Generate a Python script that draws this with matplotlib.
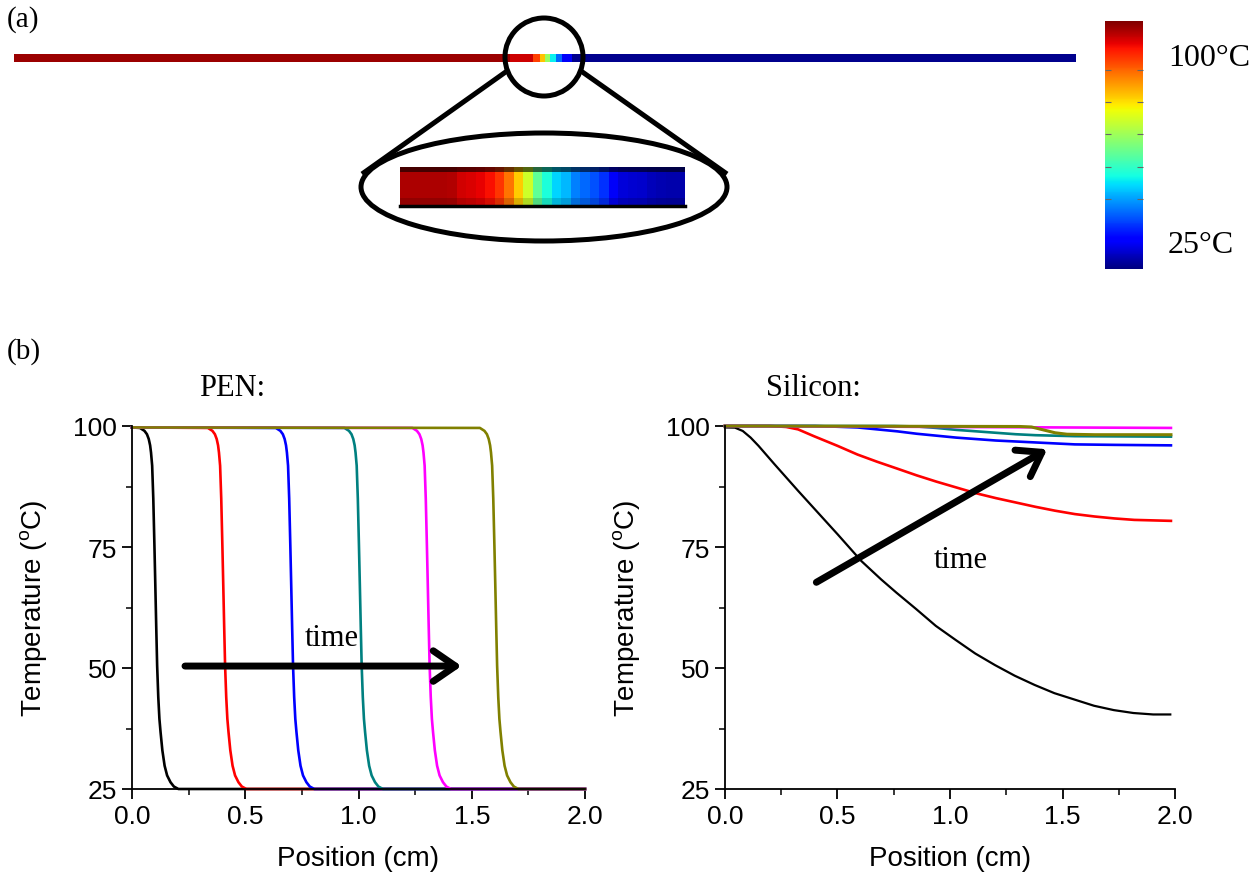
import matplotlib.pyplot as plt
import numpy as np
from matplotlib.patches import Ellipse, Rectangle
from matplotlib.colors import Normalize
from matplotlib.cm import ScalarMappable
from matplotlib.ticker import MultipleLocator

plt.rcParams['font.family'] = 'Liberation Sans'
plt.rcParams['mathtext.fontset'] = 'custom'
plt.rcParams['mathtext.rm'] = 'Liberation Sans'
plt.rcParams['mathtext.default'] = 'rm'

# ---------------- (a) temperature along the strip ----------------
# main strip: segment edges (fraction of strip length) and temperature of each segment
bar_edges = [0.0, 0.467, 0.489, 0.495, 0.500, 0.505, 0.510, 0.516, 0.525, 1.0]
bar_temps = [98, 95, 88, 78, 65, 52, 42, 33, 26]

# zoomed strip, left to right
inner_temps = [97, 97, 97, 97, 97, 96.5, 94.5, 94, 93, 92, 89, 84, 77, 70, 60,
               54, 50, 48, 44, 42, 40.5, 38, 33, 31, 30.5, 30, 29, 28.5, 28, 28]

# colour scale
cbar_range = (13.8, 113.2)
cbar_ticks = [25, 100]
cbar_labels = ['25°C', '100°C']
cbar_minor = [41.8, 54.6, 67.9, 80.7, 93.6]

# ---------------- (b) PEN ----------------
pen_temp = [99.7, 99.6, 99.0, 98.3, 97.3, 96.0, 94.5, 91.8, 85.0, 75.3, 67.0, 58.5, 50.5,
            44.0, 39.5, 36.8, 33.0, 29.8, 27.8, 26.4, 25.5, 25.0, 25.0]
pen_pos = [
    [0, 0.035, 0.055, 0.066, 0.074, 0.080, 0.084, 0.089, 0.094, 0.099, 0.103, 0.107,
     0.111, 0.116, 0.121, 0.126, 0.134, 0.144, 0.155, 0.170, 0.185, 0.205, 2.0],
    [0, 0.335, 0.355, 0.366, 0.374, 0.380, 0.384, 0.389, 0.394, 0.399, 0.403, 0.407,
     0.411, 0.416, 0.421, 0.426, 0.434, 0.444, 0.455, 0.470, 0.485, 0.505, 2.0],
    [0, 0.635, 0.655, 0.666, 0.674, 0.680, 0.684, 0.689, 0.694, 0.699, 0.703, 0.707,
     0.711, 0.716, 0.721, 0.726, 0.734, 0.744, 0.755, 0.770, 0.785, 0.805, 2.0],
    [0, 0.938, 0.958, 0.969, 0.977, 0.983, 0.987, 0.992, 0.997, 1.002, 1.006, 1.010,
     1.014, 1.019, 1.024, 1.029, 1.037, 1.047, 1.058, 1.073, 1.088, 1.108, 2.0],
    [0, 1.238, 1.258, 1.269, 1.277, 1.283, 1.287, 1.292, 1.297, 1.302, 1.306, 1.310,
     1.314, 1.319, 1.324, 1.329, 1.337, 1.347, 1.358, 1.373, 1.388, 1.408, 2.0],
    [0, 1.536, 1.556, 1.567, 1.575, 1.581, 1.585, 1.590, 1.595, 1.600, 1.604, 1.608,
     1.612, 1.617, 1.622, 1.627, 1.635, 1.645, 1.656, 1.671, 1.686, 1.706, 2.0],
]

# ---------------- (b) Silicon ----------------
si_black_x = [0, 0.044, 0.079, 0.114, 0.149, 0.22, 0.325, 0.413, 0.501, 0.606, 0.694,
              0.761, 0.849, 0.937, 1.025, 1.112, 1.2, 1.288, 1.376, 1.464, 1.552,
              1.64, 1.728, 1.815, 1.903, 1.979]
si_black_y = [99.7, 99.66, 98.97, 97.6, 95.9, 92.1, 86.6, 82.1, 77.6, 72.1, 68.3,
              65.6, 62.2, 58.7, 55.8, 53.0, 50.6, 48.4, 46.5, 44.8, 43.5,
              42.2, 41.3, 40.7, 40.4, 40.4]
si_red_x = [0, 0.2, 0.272, 0.325, 0.395, 0.5, 0.589, 0.677, 0.765, 0.852, 0.94, 1.028,
            1.116, 1.204, 1.292, 1.38, 1.467, 1.555, 1.643, 1.731, 1.819, 1.982]
si_red_y = [100, 100, 99.8, 99.3, 97.9, 95.9, 94.1, 92.6, 91.2, 89.8, 88.5, 87.3,
            86.1, 85.1, 84.2, 83.3, 82.5, 81.8, 81.3, 80.9, 80.6, 80.4]
si_blue_x = [0, 0.4, 0.466, 0.589, 0.677, 0.765, 0.852, 0.94, 1.028, 1.204, 1.38,
             1.555, 1.731, 1.982]
si_blue_y = [100, 100, 99.9, 99.7, 99.3, 98.9, 98.4, 98.0, 97.6, 97.0, 96.6,
             96.2, 96.1, 96.0]
si_teal_x = [0, 0.75, 0.852, 0.94, 1.028, 1.116, 1.204, 1.292, 1.38, 1.555, 1.982]
si_teal_y = [100, 100, 99.9, 99.6, 99.2, 98.9, 98.6, 98.3, 98.1, 97.9, 97.8]
si_mag_x = [0, 1.0, 1.982]
si_mag_y = [100, 99.8, 99.6]
si_olive_x = [0, 1.309, 1.362, 1.397, 1.432, 1.467, 1.52, 1.643, 1.982]
si_olive_y = [100, 99.9, 99.8, 99.4, 99.0, 98.6, 98.3, 98.2, 98.2]

colors = ['black', 'red', 'blue', 'teal', 'magenta', 'olive']

fig = plt.figure(figsize=(12.6, 8.79), dpi=100)

# ---- part (a) on a pixel canvas ----
ax_a = fig.add_axes([0, 0, 1, 1])
ax_a.set_xlim(0, 1260)
ax_a.set_ylim(879, 0)
ax_a.axis('off')

x0, x1 = 14, 1076
edges = x0 + np.array(bar_edges) * (x1 - x0)
ax_a.pcolormesh(edges, [55, 63], np.array([bar_temps]), cmap='jet', vmin=25, vmax=100)

ax_a.imshow(np.array([inner_temps]), extent=(400, 685, 207, 168), cmap='jet',
            vmin=25, vmax=100, aspect='auto', interpolation='nearest')
ax_a.add_patch(Rectangle((400, 168), 285, 5, color='black', alpha=0.6, lw=0))
ax_a.add_patch(Rectangle((400, 199), 285, 7, color='black', alpha=0.15, lw=0))
ax_a.plot([400, 685], [207, 207], color='black', lw=2.5)

ax_a.add_patch(Ellipse((544, 58), 78, 78, fill=False, lw=3.6, color='black'))
ax_a.add_patch(Ellipse((544, 188), 366, 108, fill=False, lw=3.6, color='black'))
ax_a.plot([507, 362], [72, 175], color='black', lw=3.6, solid_capstyle='butt')
ax_a.plot([581, 727], [72, 175], color='black', lw=3.6, solid_capstyle='butt')

ax_a.text(7, 20, '(a)', family='Liberation Serif', fontsize=21, va='center')
ax_a.text(7, 352, '(b)', family='Liberation Serif', fontsize=21, va='center')

cax = fig.add_axes([1105 / 1260, 1 - 270 / 879, 38 / 1260, 248 / 879])
cb = fig.colorbar(ScalarMappable(norm=Normalize(*cbar_range), cmap='jet'), cax=cax)
cb.outline.set_visible(False)
cb.set_ticks(cbar_ticks)
cb.set_ticklabels(cbar_labels)
cax.set_yticks(cbar_minor, minor=True)
cax.tick_params(which='major', length=0, pad=18, labelsize=23)
cax.tick_params(which='minor', direction='in', length=4, width=0.8, color='#666666',
                left=True, right=True)
for lab in cax.get_yticklabels():
    lab.set_family('Liberation Serif')


def style(ax):
    ax.set_xlim(0, 2)
    ax.set_ylim(25, 100)
    ax.spines[['top', 'right']].set_visible(False)
    for s in ['left', 'bottom']:
        ax.spines[s].set_linewidth(1.3)
    ax.set_xticks([0, 0.5, 1.0, 1.5, 2.0])
    ax.set_yticks([25, 50, 75, 100])
    ax.xaxis.set_minor_locator(MultipleLocator(0.25))
    ax.yaxis.set_minor_locator(MultipleLocator(12.5))
    ax.tick_params(which='major', direction='out', length=7, width=1.3, labelsize=19, pad=4)
    ax.tick_params(which='minor', direction='out', length=4, width=1.1)
    ax.set_xlabel('Position (cm)', fontsize=20, labelpad=12)
    ax.set_ylabel('Temperature ($^{o}$C)', fontsize=20, labelpad=17)


arrow = dict(arrowstyle='->,head_length=0.8,head_width=0.55', lw=5, color='black',
             shrinkA=0, shrinkB=0, mutation_scale=20)

# ---- PEN ----
ax1 = fig.add_axes([132 / 1260, 89 / 879, 453 / 1260, 363 / 879])
style(ax1)
for xs, c in zip(pen_pos, colors):
    ax1.plot(xs, pen_temp, color=c, lw=1.9, clip_on=False)
ax1.text(0.443, 108, 'PEN:', family='Liberation Serif', fontsize=22, ha='center', va='center')
ax1.text(0.884, 56.3, 'time', family='Liberation Serif', fontsize=22, ha='center', va='center')
ax1.annotate('', xy=(1.455, 50.4), xytext=(0.234, 50.4), arrowprops=arrow)

# ---- Silicon ----
ax2 = fig.add_axes([725 / 1260, 89 / 879, 450 / 1260, 363 / 879])
style(ax2)
ax2.plot(si_black_x, si_black_y, color='black', lw=1.6, clip_on=False)
ax2.plot(si_red_x, si_red_y, color='red', lw=1.9, clip_on=False)
ax2.plot(si_blue_x, si_blue_y, color='blue', lw=1.9, clip_on=False)
ax2.plot(si_teal_x, si_teal_y, color='teal', lw=1.9, clip_on=False)
ax2.plot(si_mag_x, si_mag_y, color='magenta', lw=1.9, clip_on=False)
ax2.plot(si_olive_x, si_olive_y, color='olive', lw=2.2, clip_on=False)
ax2.text(0.395, 108, 'Silicon:', family='Liberation Serif', fontsize=22, ha='center', va='center')
ax2.text(1.049, 72.5, 'time', family='Liberation Serif', fontsize=22, ha='center', va='center')
ax2.annotate('', xy=(1.432, 95.2), xytext=(0.406, 67.7), arrowprops=arrow)

fig.savefig('out.png', dpi=100)
